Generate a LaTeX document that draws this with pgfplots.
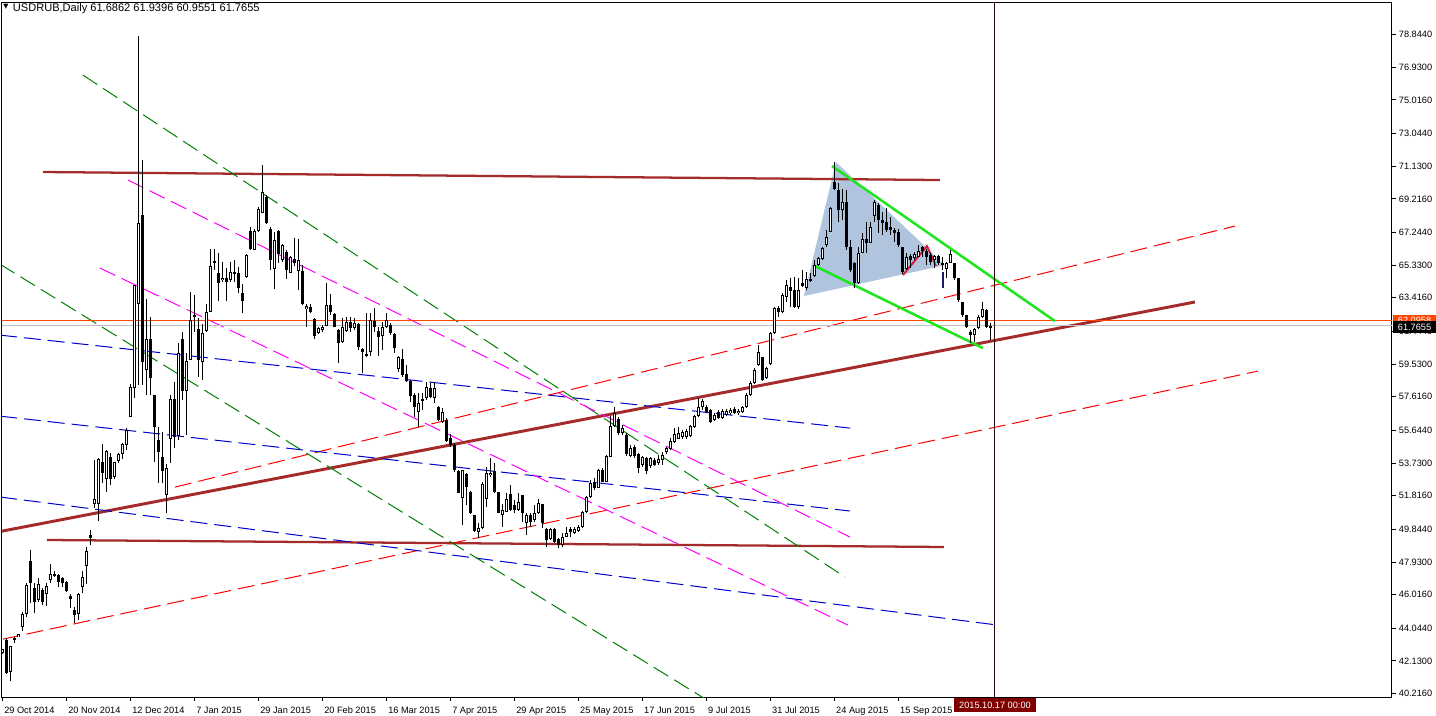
\documentclass[border=0pt]{standalone}
\usepackage{fontspec}
\setmainfont{Liberation Sans}
\newfontfamily\symfont{DejaVu Sans}
\usepackage{pgfplots}
\pgfplotsset{compat=1.18}
\usepackage{pgfplotstable}

\definecolor{mtbrown}{RGB}{165,42,42}
\definecolor{mtred}{RGB}{255,0,0}
\definecolor{mtblue}{RGB}{0,0,205}
\definecolor{mtgreen}{RGB}{0,128,0}
\definecolor{mtmag}{RGB}{255,0,255}
\definecolor{mtlime}{RGB}{30,230,30}
\definecolor{mtfill}{RGB}{176,196,222}
\definecolor{mtcrim}{RGB}{220,20,60}
\definecolor{mtorange}{RGB}{255,69,0}
\definecolor{mtgrey}{RGB}{192,192,192}
\definecolor{mtmaroon}{RGB}{128,0,0}
\definecolor{mtnavy}{RGB}{25,25,112}
\definecolor{mtvline}{RGB}{40,10,10}

\pgfplotstableread{
i o h l c
0 42.57 42.85 42.53 42.81
1 43.35 43.45 41.36 41.40
2 41.46 43.02 40.97 43.00
3 43.45 43.55 43.20 43.35
4 43.51 43.72 43.51 43.69
5 44.14 44.98 43.90 44.86
6 44.86 46.68 44.72 46.58
7 47.96 48.63 45.50 46.68
8 46.38 46.68 44.92 45.56
9 45.70 46.97 45.60 46.62
10 46.28 46.38 45.41 45.56
11 46.03 46.71 45.37 46.52
12 46.85 47.81 46.68 47.20
13 47.22 47.42 47.03 47.10
14 47.16 47.22 46.48 46.75
15 46.99 47.07 46.48 46.68
16 46.73 46.79 46.17 46.25
17 45.93 46.05 45.25 45.78
18 45.11 45.27 44.33 44.80
19 44.86 46.13 44.53 46.05
20 46.48 47.40 46.13 47.03
21 47.69 48.83 46.64 48.57
22 49.51 49.80 48.92 49.35
23 51.36 53.90 51.07 51.60
24 51.36 54.00 50.35 53.94
25 53.81 54.84 52.54 53.12
26 52.77 54.49 52.05 54.43
27 54.06 54.30 52.44 52.77
28 52.93 53.81 52.81 53.77
29 53.83 54.34 53.71 54.26
30 54.24 54.88 53.98 54.82
31 54.78 55.76 54.49 55.66
32 56.41 58.39 56.41 58.20
33 58.11 64.16 57.52 64.16
34 63.08 78.76 58.30 67.78
35 68.27 71.49 58.30 59.67
36 59.18 63.32 57.71 60.98
37 60.98 62.31 57.71 58.69
38 57.71 57.71 53.81 55.86
39 55.08 55.86 52.54 54.39
40 54.10 55.57 52.54 53.28
41 51.85 53.69 50.78 53.42
42 55.12 57.71 53.71 57.46
43 57.46 58.50 54.59 55.27
44 55.31 60.78 55.08 60.20
45 60.98 61.43 57.42 57.97
46 57.97 60.16 55.37 59.73
47 59.77 63.77 59.77 62.11
48 62.40 63.58 61.43 62.31
49 61.56 62.21 58.79 59.77
50 59.67 61.91 58.59 61.33
51 61.49 63.05 61.43 62.60
52 62.60 66.29 62.60 65.28
53 65.59 66.25 65.04 65.49
54 64.85 66.02 63.24 64.26
55 64.45 65.53 64.36 64.59
56 64.59 65.14 63.24 64.36
57 64.45 65.53 64.36 64.94
58 64.94 65.63 64.36 64.85
59 64.89 65.20 63.68 64.01
60 63.68 64.20 62.50 63.25
61 64.65 65.98 64.59 65.92
62 67.33 67.58 66.21 66.25
63 66.21 67.43 66.21 67.33
64 67.33 68.75 67.29 68.60
65 68.40 71.20 68.36 69.63
66 69.34 69.44 67.74 67.78
67 67.43 67.58 65.04 65.63
68 65.08 67.29 63.91 66.80
69 67.33 67.39 65.43 65.96
70 65.63 66.55 65.53 66.51
71 66.10 66.21 64.50 65.04
72 64.89 65.86 64.85 65.82
73 65.69 66.90 65.28 65.43
74 65.00 66.84 63.87 65.63
75 65.00 65.34 62.99 63.05
76 62.74 63.05 61.72 62.93
77 62.85 63.05 62.50 62.60
78 62.15 62.21 60.98 61.17
79 61.33 61.68 61.27 61.62
80 61.52 61.82 61.43 61.72
81 61.78 64.26 61.78 62.99
82 62.99 63.64 62.40 62.60
83 62.46 62.54 61.72 61.72
84 61.52 61.56 59.57 60.74
85 60.80 62.21 60.74 61.72
86 61.49 62.31 61.43 62.01
87 61.97 62.31 61.43 61.62
88 61.62 62.21 61.53 61.92
89 61.88 61.92 60.35 60.55
90 60.41 60.45 59.02 60.26
91 60.12 62.50 59.96 60.00
92 60.26 62.50 60.00 62.11
93 62.07 62.80 61.43 61.72
94 61.49 61.72 60.00 61.13
95 61.19 62.01 60.35 61.72
96 61.68 62.50 61.62 62.11
97 61.82 61.92 61.23 61.33
98 61.29 61.33 60.20 60.45
99 59.22 60.00 59.08 59.92
100 59.81 60.39 58.79 58.89
101 58.95 59.47 58.50 58.55
102 58.55 58.59 57.32 57.66
103 57.72 57.85 56.45 57.03
104 56.74 57.81 55.86 57.27
105 57.46 57.81 56.83 57.36
106 57.52 58.50 57.42 58.20
107 58.11 58.40 57.52 57.58
108 57.52 58.50 57.27 58.11
109 56.99 57.07 56.21 56.25
110 56.15 56.93 56.05 56.74
111 56.25 56.35 54.98 55.04
112 55.18 55.43 54.69 54.78
113 54.78 54.88 53.22 53.32
114 53.28 53.32 51.95 51.95
115 51.66 53.32 50.09 53.32
116 53.08 53.12 51.27 52.30
117 52.04 52.09 50.74 50.78
118 50.68 50.68 49.70 49.76
119 49.70 50.19 49.31 49.90
120 49.90 52.63 49.84 52.50
121 51.60 53.47 51.17 53.12
122 53.02 54.00 52.93 53.16
123 53.28 53.71 51.95 52.05
124 52.05 52.05 50.78 50.82
125 50.68 51.36 50.00 50.97
126 50.88 51.95 50.88 51.60
127 51.91 52.44 50.94 50.97
128 51.27 51.56 50.82 50.97
129 50.97 51.95 50.94 51.46
130 51.85 51.85 50.29 50.82
131 50.19 50.78 49.51 50.68
132 50.68 50.78 50.00 50.29
133 50.39 51.27 50.29 50.78
134 50.78 51.60 50.74 51.36
135 51.33 51.36 49.90 50.23
136 49.84 49.90 48.82 49.22
137 49.26 49.90 49.22 49.84
138 49.84 49.90 49.02 49.12
139 49.26 49.31 48.73 48.92
140 48.92 49.61 48.82 49.41
141 49.41 50.00 49.37 49.65
142 49.84 50.00 49.41 49.70
143 49.65 50.00 49.57 49.84
144 49.76 50.09 49.70 50.00
145 50.00 50.92 49.90 50.88
146 50.88 51.79 50.82 51.72
147 51.72 52.73 51.66 52.58
148 52.63 52.83 52.15 52.24
149 52.24 53.36 52.24 53.32
150 53.32 53.42 52.63 52.63
151 52.63 54.20 52.63 54.14
152 54.10 56.48 54.10 55.90
153 55.90 56.99 55.86 56.69
154 56.29 56.44 55.37 55.47
155 55.47 55.96 55.37 55.76
156 55.37 55.47 54.14 54.26
157 54.14 54.78 54.10 54.59
158 54.69 54.78 54.00 54.14
159 54.29 54.33 53.12 53.42
160 53.61 54.14 53.51 54.06
161 54.00 54.10 53.08 53.28
162 53.55 54.10 53.47 54.04
163 53.90 54.00 53.55 53.61
164 53.71 54.20 53.61 53.98
165 53.90 54.39 53.61 54.20
166 54.39 54.69 54.29 54.59
167 54.53 55.17 54.49 55.04
168 54.98 55.76 54.92 55.43
169 55.17 55.82 55.12 55.47
170 55.23 55.66 55.17 55.56
171 55.23 55.70 55.17 55.60
172 55.31 55.96 55.27 55.90
173 55.82 56.54 55.76 56.48
174 56.48 57.52 56.44 57.03
175 57.03 57.46 56.84 57.38
176 56.99 57.13 56.68 56.74
177 56.84 56.88 56.09 56.15
178 56.25 56.64 56.21 56.52
179 56.74 56.84 56.29 56.35
180 56.35 56.88 56.31 56.78
181 56.54 56.88 56.48 56.80
182 56.64 56.93 56.54 56.84
183 56.88 56.99 56.60 56.64
184 56.68 56.88 56.54 56.80
185 56.74 57.07 56.68 56.99
186 56.99 57.81 56.93 57.71
187 57.71 58.55 57.66 58.44
188 58.40 59.28 58.36 59.18
189 59.47 60.64 59.41 60.25
190 59.92 59.96 58.56 58.59
191 58.69 59.38 58.63 59.28
192 59.53 61.43 59.47 61.37
193 61.33 62.89 61.29 62.80
194 62.80 62.93 62.31 62.60
195 62.60 63.68 62.54 63.58
196 63.48 64.46 63.19 64.16
197 64.06 64.55 62.89 63.83
198 63.87 64.61 62.79 62.85
199 62.85 64.55 62.79 63.87
200 64.30 65.04 64.06 64.10
201 63.97 64.94 63.87 64.50
202 64.51 64.89 64.36 64.40
203 64.69 65.63 64.65 65.34
204 65.34 65.78 65.28 65.73
205 65.67 66.37 65.63 66.31
206 66.51 67.39 66.41 67.00
207 67.29 68.75 67.29 68.66
208 70.18 71.39 69.73 69.77
209 69.73 70.12 67.88 68.56
210 68.56 69.77 67.97 69.05
211 69.05 69.73 66.21 66.41
212 66.37 66.80 64.94 65.04
213 65.43 65.53 63.97 64.26
214 64.26 66.41 64.22 66.06
215 66.06 67.19 66.02 66.84
216 66.84 67.88 66.02 66.64
217 66.64 67.88 66.60 67.58
218 68.21 69.15 67.88 69.05
219 68.85 68.95 67.19 67.97
220 67.97 68.46 67.09 67.82
221 67.88 68.66 67.29 67.39
222 67.58 68.17 67.09 67.39
223 67.39 67.48 66.70 67.19
224 67.29 67.43 66.41 66.51
225 66.37 66.41 64.81 64.94
226 65.08 66.02 65.04 65.78
227 65.86 65.98 65.14 65.63
228 65.73 66.12 65.63 65.98
229 65.82 66.51 65.78 66.16
230 66.41 66.45 65.82 66.18
231 66.18 66.25 65.34 65.82
232 65.92 66.06 65.34 65.53
233 65.63 65.92 65.14 65.86
234 65.86 65.92 65.34 65.43
235 65.43 65.78 65.04 65.34
236 65.08 65.53 64.55 65.43
237 65.47 66.21 65.43 65.98
238 65.43 65.47 64.46 64.55
239 64.55 64.55 63.19 63.28
240 63.19 63.19 62.31 62.40
241 62.40 62.40 61.62 61.72
242 61.43 61.52 60.74 61.23
243 61.23 61.62 60.84 61.56
244 61.62 62.40 61.56 62.31
245 62.31 63.19 62.21 62.74
246 62.70 62.74 61.62 61.72
247 61.6862 61.9396 60.9551 61.7655
}\candles

\begin{document}
\begin{tikzpicture}
\path[use as bounding box, fill=white] (0pt,0pt) rectangle (1077pt,-536.25pt);
\begin{axis}[
  at={(1.5pt,-1.5pt)}, anchor=north west,
  scale only axis, width=1042.5pt, height=521.25pt,
  xmin=-0.25, xmax=347.25, ymin=40.017, ymax=80.755,
  axis line style={black, line width=0.75pt},
  xtick={0,16,32,48,64,80,96,112,128,144,160,176,192,208,224},
  xticklabels={29 Oct 2014,20 Nov 2014,12 Dec 2014,7 Jan 2015,29 Jan 2015,20 Feb 2015,16 Mar 2015,7 Apr 2015,29 Apr 2015,25 May 2015,17 Jun 2015,9 Jul 2015,31 Jul 2015,24 Aug 2015,15 Sep 2015},
  ytick={40.216,42.13,44.044,46.016,47.93,49.844,51.816,53.73,55.644,57.616,59.53,61.444,63.416,65.33,67.244,69.216,71.13,73.044,75.016,76.93,78.844},
  xtick pos=bottom, ytick pos=right, yticklabel pos=right,
  tick align=outside, major tick length=3pt,
  tick style={black, line width=0.75pt},
  xticklabel style={anchor=north west, inner sep=0pt, xshift=0.75pt, yshift=-4.5pt, font=\fontsize{6.9}{8}\selectfont},
  yticklabel style={anchor=west, inner sep=0pt, xshift=2pt, font=\fontsize{6.9}{8}\selectfont,
     /pgf/number format/fixed, /pgf/number format/fixed zerofill, /pgf/number format/precision=4,
     /pgf/number format/assume math mode=true},
  clip=true,
  candle/.style={draw=none, mark=none, forget plot,
     error bars/.cd, y dir=both, y explicit, error mark=none},
]
% shaded triangle
\addplot[fill=mtfill, draw=none] coordinates {(200.25,63.52) (208.25,71.37) (235.5,65.33)} -- cycle;
% horizontal brown levels
\addplot[mtbrown, line width=1.7pt] coordinates {(10,70.79) (234.25,70.32)};
\addplot[mtbrown, line width=1.7pt] coordinates {(11,49.22) (235.25,48.81)};
% rising brown trend
\addplot[mtbrown, line width=2.2pt] coordinates {(-0.25,49.74) (298,63.17)};
% red dashed channel
\addplot[mtred, line width=0.75pt, dash pattern=on 12.75pt off 5.25pt] coordinates {(43,52.32) (308,67.62)};
\addplot[mtred, line width=0.75pt, dash pattern=on 12.75pt off 5.25pt] coordinates {(0,43.41) (313.75,59.12)};
% blue dashed
\addplot[mtblue, line width=0.75pt, dash pattern=on 12.75pt off 5.25pt] coordinates {(-0.75,61.23) (211.75,55.78)};
\addplot[mtblue, line width=0.75pt, dash pattern=on 12.75pt off 5.25pt] coordinates {(-0.75,56.48) (211.75,50.92)};
\addplot[mtblue, line width=0.75pt, dash pattern=on 12.75pt off 5.25pt] coordinates {(-0.75,51.74) (248.75,44.23)};
% green dashed
\addplot[mtgreen, line width=0.75pt, dash pattern=on 12.75pt off 5.25pt] coordinates {(20,76.47) (210.5,47.05)};
\addplot[mtgreen, line width=0.75pt, dash pattern=on 12.75pt off 5.25pt] coordinates {(-0.75,65.39) (176,39.84)};
% magenta dashed
\addplot[mtmag, line width=0.75pt, dash pattern=on 12.75pt off 5.25pt] coordinates {(31.25,70.32) (211.75,49.39)};
\addplot[mtmag, line width=0.75pt, dash pattern=on 12.75pt off 5.25pt] coordinates {(24.25,65.16) (211.25,44.23)};
% horizontal price lines
\addplot[mtorange, line width=0.75pt] coordinates {(-0.25,62.0958) (347.25,62.0958)};
\addplot[mtgrey, line width=0.75pt] coordinates {(-0.25,61.7655) (347.25,61.7655)};
% lime wedge
\addplot[mtlime, line width=1.9pt] coordinates {(207.25,71.14) (263,62.05)};
\addplot[mtlime, line width=1.9pt] coordinates {(203,65.28) (245,60.47)};
% crimson zigzag
\addplot[mtcrim, line width=1.4pt] coordinates {(225,64.75) (231,66.45) (233.25,65.28)};
% navy mark
\addplot[mtnavy, line width=1.6pt] coordinates {(235,64.92) (235,63.99)};
% vertical line
\addplot[mtvline, line width=0.75pt] coordinates {(248,40.017) (248,80.755)};
% candles: wicks
\addplot[candle, error bar style={draw=black, solid, line width=0.75pt}]
  table[x=i, y expr={(\thisrow{h}+\thisrow{l})/2}, y error expr={(\thisrow{h}-\thisrow{l})/2}] {\candles};
% candles: bodies
\addplot[candle, error bar style={draw=black, solid, line width=2.25pt}]
  table[x=i, y expr={(\thisrow{o}+\thisrow{c})/2}, y error expr={abs(\thisrow{c}-\thisrow{o})/2}] {\candles};
% candles: white interiors of rising candles
\addplot[candle, error bar style={draw=white, solid, line width=0.75pt}]
  table[x=i, y expr={(\thisrow{o}+\thisrow{c})/2}, y error expr={\thisrow{c}>\thisrow{o} ? max((\thisrow{c}-\thisrow{o})/2-0.0586,0) : 0}] {\candles};
\coordinate (orng) at (axis cs:347.25,62.0958);
\coordinate (bid) at (axis cs:347.25,61.7655);
\coordinate (vl) at (axis cs:248,40.017);
\end{axis}
% title
\node[anchor=base west, inner sep=0pt, font=\symfont\fontsize{5}{6}\selectfont] at (2.4pt,-6.4pt) {▼};
\node[anchor=base west, inner sep=0pt, font=\fontsize{8.3}{10}\selectfont] at (9.5pt,-8.25pt) {USDRUB,Daily 61.6862 61.9396 60.9551 61.7655};
% price boxes
\node[fill=mtorange, text=white, anchor=west, inner sep=0pt, minimum height=8.25pt, minimum width=32pt, font=\fontsize{6.9}{8}\selectfont] at ([xshift=0.75pt]orng) {62.0958};
\node[fill=black, text=white, anchor=west, inner sep=0pt, minimum height=9pt, minimum width=32pt, font=\fontsize{6.9}{8}\selectfont] at ([xshift=0.75pt, yshift=-1pt]bid) {61.7655};
% date box
\node[fill=mtmaroon, text=white, anchor=north, inner sep=0pt, minimum height=10.5pt, minimum width=61.5pt, font=\fontsize{6.9}{8}\selectfont] at ([yshift=-0.75pt]vl) {2015.10.17 00:00};
\end{tikzpicture}
\end{document}
